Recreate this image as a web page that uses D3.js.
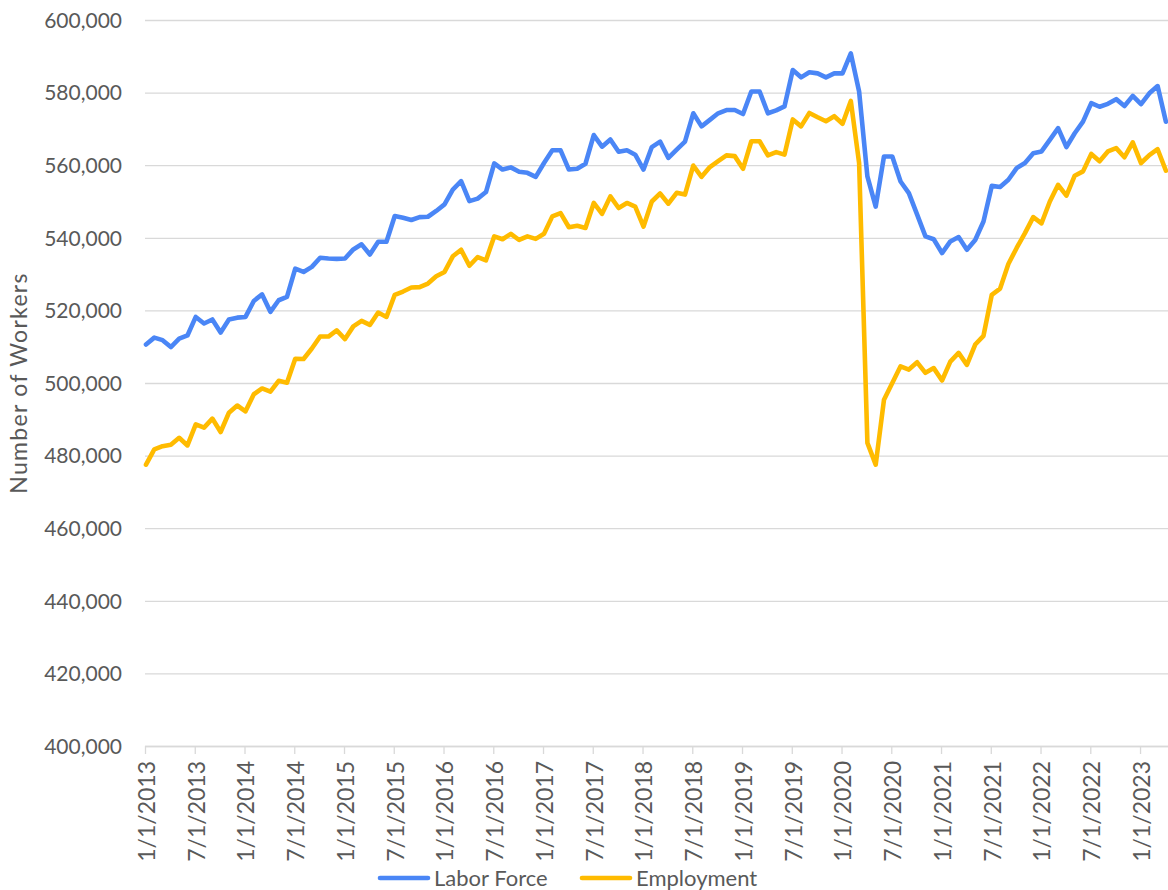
<!DOCTYPE html>
<html lang='en'>
<head>
    <meta charset='UTF-8'>
    <title>Labor Force and Employment</title>
    <style>
        body {
            margin: 0;
            background: #fff;
        }

        text {
            font-family: Lato, 'Open Sans', sans-serif;
            fill: #595959;
        }

        .grid line {
            stroke: #d9d9d9;
            stroke-width: 1.3px;
        }

        .series {
            fill: none;
            stroke-width: 4.6px;
            stroke-linejoin: round;
            stroke-linecap: round;
        }
    </style>
</head>
<body>
    <div id="chart"></div>
    <script src='https://d3js.org/d3.v7.min.js'></script>
    <script>
        // monthly, starting 1/1/2013
        const startDate = new Date(Date.UTC(2013, 0, 1))
        const laborForce = [
            510600, 512500, 511800, 509900, 512200, 513100, 518200, 516400, 517500, 513900, 517500, 518000,
            518200, 522600, 524400, 519600, 522800, 523700, 531500, 530600, 532000, 534500, 534300, 534200,
            534300, 536800, 538200, 535400, 538900, 538900, 546000, 545500, 544900, 545700, 545800, 547400,
            549200, 553300, 555600, 550100, 550800, 552600, 560500, 558800, 559400, 558200, 557900, 556800,
            560600, 564100, 564100, 558800, 559000, 560400, 568300, 565100, 567100, 563700, 564100, 562900,
            558800, 565000, 566500, 562000, 564300, 566500, 574300, 570700, 572500, 574300, 575200, 575200,
            574100, 580300, 580300, 574300, 575100, 576200, 586200, 584200, 585600, 585300, 584200, 585300,
            585300, 590800, 580300, 556900, 548600, 562400, 562400, 555500, 552300, 546400, 540400, 539600,
            535800, 539000, 540200, 536700, 539400, 544500, 554300, 554000, 556000, 559200, 560600, 563300,
            563800, 567000, 570200, 565000, 568800, 572000, 577100, 576100, 576900, 578200, 576300, 579100,
            576800, 579800, 581800, 572000
        ]
        const employment = [
            477500, 481700, 482600, 483000, 484900, 482800, 488600, 487700, 490200, 486500, 491800, 493800,
            492200, 496900, 498500, 497600, 500600, 500100, 506700, 506600, 509500, 512800, 512800, 514500,
            512100, 515600, 517100, 516000, 519400, 518200, 524300, 525200, 526300, 526400, 527400, 529400,
            530600, 534900, 536700, 532300, 534700, 533800, 540400, 539600, 541100, 539400, 540400, 539700,
            541100, 545900, 546800, 542900, 543300, 542700, 549600, 546600, 551400, 548200, 549600, 548600,
            543100, 550000, 552200, 549400, 552400, 551900, 559900, 556800, 559500, 561100, 562700, 562500,
            559000, 566600, 566600, 562700, 563600, 562900, 572600, 570700, 574400, 573200, 572100, 573500,
            571400, 577700, 560600, 483500, 477500, 495400, 500000, 504600, 503700, 505700, 502800, 504100,
            500700, 505900, 508300, 505000, 510600, 513000, 524300, 526000, 532800, 537200, 541300, 545700,
            544000, 550000, 554600, 551600, 557100, 558300, 563100, 561100, 563800, 564700, 562200, 566300,
            560600, 562800, 564400, 558500
        ]
        const seriesNames = ['Labor Force', 'Employment']
        const seriesColors = ['#4a86f6', '#ffbb00']
        const yTicks = [400000, 420000, 440000, 460000, 480000, 500000, 520000, 540000, 560000, 580000, 600000]
        const tickEvery = 6 // months between x tick labels

        const width = 1168
        const height = 890
        const plotLeft = 146
        const plotTop = 20
        const plotBottom = 746
        const monthWidth = 8.292

        const months = d3.utcMonth.range(startDate, d3.utcMonth.offset(startDate, laborForce.length))
        const fmtDate = d => `${d.getUTCMonth() + 1}/${d.getUTCDate()}/${d.getUTCFullYear()}`

        const x = d3.scaleLinear()
            .domain([0, months.length - 1])
            .range([plotLeft, plotLeft + monthWidth * (months.length - 1)])

        const y = d3.scaleLinear()
            .domain([yTicks[0], yTicks[yTicks.length - 1]])
            .range([plotBottom, plotTop])

        const svg = d3.select('#chart')
            .append('svg')
            .attr('width', width)
            .attr('height', height)
            .style('display', 'block')

        // horizontal gridlines + y labels
        const yAxis = svg.append('g')
            .attr('class', 'grid')
            .attr('transform', `translate(${plotLeft - 1}, 0)`)
            .call(d3.axisLeft(y)
                .tickValues(yTicks)
                .tickSize(-(width - plotLeft + 1))
                .tickPadding(23)
                .tickFormat(d3.format(',')))
        yAxis.select('.domain').remove()
        yAxis.selectAll('text')
            .style('font-size', '21px')
            .attr('dy', '0.35em')

        // x axis with rotated date labels
        const xTickIdx = d3.range(0, months.length, tickEvery)
        const xAxis = svg.append('g')
            .attr('class', 'grid')
            .attr('transform', `translate(0, ${plotBottom})`)
            .call(d3.axisBottom(x)
                .tickValues(xTickIdx)
                .tickSize(8)
                .tickSizeOuter(0)
                .tickFormat(i => fmtDate(months[i])))
        xAxis.select('.domain')
            .attr('d', `M${plotLeft - 1},0.5H${width}`)
            .attr('stroke', '#d9d9d9')
            .attr('stroke-width', 1.3)
        xAxis.selectAll('.tick line')
            .attr('transform', 'translate(-1, 0)')
        xAxis.selectAll('text')
            .style('font-size', '23px')
            .attr('text-anchor', 'end')
            .attr('transform', 'rotate(-90)')
            .attr('x', -15)
            .attr('y', 0)
            .attr('dy', '0.36em')

        // y axis title
        svg.append('text')
            .attr('transform', `translate(27, ${(plotTop + plotBottom) / 2}) rotate(-90)`)
            .attr('text-anchor', 'middle')
            .style('font-size', '23px')
            .style('letter-spacing', '1.3px')
            .text('Number of Workers')

        // lines
        const line = d3.line()
            .x((_, i) => x(i))
            .y(d => y(d))

        svg.append('g')
            .selectAll('path')
            .data([laborForce, employment])
            .join('path')
            .attr('class', 'series')
            .attr('stroke', (_, i) => seriesColors[i])
            .attr('d', line)

        // legend
        const legendX = [378, 580]
        const legend = svg.append('g')
            .attr('transform', `translate(0, 878)`)
            .selectAll('g')
            .data(seriesNames)
            .join('g')
            .attr('transform', (_, i) => `translate(${legendX[i]}, 0)`)

        legend.append('line')
            .attr('x1', 2)
            .attr('x2', 50)
            .attr('stroke', (_, i) => seriesColors[i])
            .attr('stroke-width', 4.6)
            .attr('stroke-linecap', 'round')

        legend.append('text')
            .attr('x', 56)
            .attr('dy', '0.35em')
            .style('font-size', '22px')
            .text(d => d)
    </script>
</body>
</html>
